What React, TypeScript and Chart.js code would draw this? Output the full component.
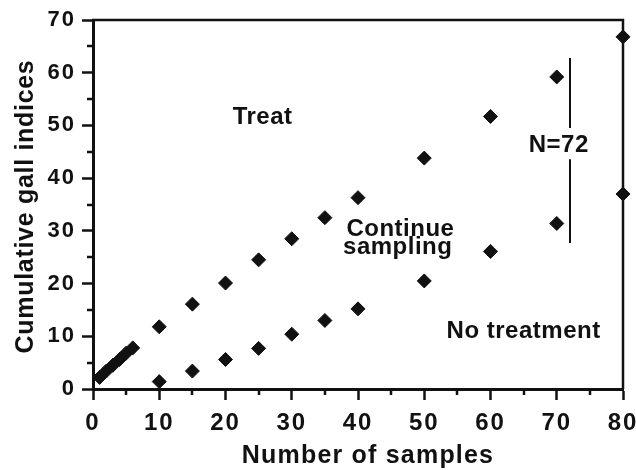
import { useEffect, useRef } from 'react';
import { Chart, registerables } from 'chart.js';

Chart.register(...registerables);

// ---- data ----
const treatX = [1, 2, 3, 4, 5, 6, 10, 15, 20, 25, 30, 35, 40, 50, 60, 70, 80];
const treatY = [2.2, 3.4, 4.5, 5.6, 6.8, 7.8, 11.8, 16.1, 20.1, 24.5, 28.5, 32.5, 36.3, 43.8, 51.7, 59.2, 66.8];
const noTreatX = [10, 15, 20, 25, 30, 35, 40, 50, 60, 70, 80];
const noTreatY = [1.4, 3.4, 5.6, 7.7, 10.4, 13.0, 15.2, 20.5, 26.1, 31.4, 37.0];
const maxNX = [72, 72, 72, 72, 72];
const maxNY: (number | null)[] = [27.7, 43.6, null, 49.5, 62.8];

const xMin = 0, xMax = 80, xStep = 10, xMinorStep = 5;
const yMin = 0, yMax = 70, yStep = 10, yMinorStep = 5;

const xTitle = 'Number of samples';
const yTitle = 'Cumulative gall indices';

const labelTexts = ['Treat', 'Continue', 'sampling', 'No treatment', 'N=72'];
const labelX = [25.6, 46.4, 46.0, 65.0, 70.3];
const labelY = [50.2, 29.0, 25.6, 9.6, 45.0];

const INK = '#111111';
const FONT = '"Liberation Sans", Arial, Helvetica, sans-serif';

const overlay = {
  id: 'overlay',
  beforeDraw(chart: any) {
    chart.ctx.letterSpacing = '2px';
  },
  afterDraw(chart: any) {
    const { ctx, chartArea } = chart;
    const { left, right, top, bottom } = chartArea;
    const xs = chart.scales.x;
    const ys = chart.scales.y;
    ctx.save();
    ctx.letterSpacing = '0px';
    ctx.strokeStyle = INK;
    ctx.fillStyle = INK;
    // frame (top, right)
    ctx.lineWidth = 2.5;
    ctx.beginPath();
    ctx.moveTo(left - 1, top);
    ctx.lineTo(right, top);
    ctx.lineTo(right, bottom);
    ctx.stroke();
    // minor ticks
    ctx.lineWidth = 2.5;
    ctx.beginPath();
    for (let v = xMin + xMinorStep; v < xMax; v += xStep) {
      const px = Math.round(xs.getPixelForValue(v));
      ctx.moveTo(px, bottom);
      ctx.lineTo(px, bottom + 6);
    }
    for (let v = yMin + yMinorStep; v < yMax; v += yStep) {
      const py = Math.round(ys.getPixelForValue(v));
      ctx.moveTo(left, py);
      ctx.lineTo(left - 6, py);
    }
    ctx.stroke();
    // annotations
    ctx.font = `bold 24px ${FONT}`;
    ctx.letterSpacing = '0.5px';
    ctx.textAlign = 'center';
    ctx.textBaseline = 'alphabetic';
    labelTexts.forEach((t, i) => {
      ctx.fillText(t, xs.getPixelForValue(labelX[i]), ys.getPixelForValue(labelY[i]));
    });
    // axis titles
    ctx.font = `bold 25px ${FONT}`;
    ctx.letterSpacing = '1.2px';
    ctx.fillText(xTitle, (left + right) / 2 + 10, bottom + 74);
    ctx.save();
    ctx.translate(33, (top + bottom) / 2 + 2);
    ctx.rotate(-Math.PI / 2);
    ctx.letterSpacing = '0.7px';
    ctx.fillText(yTitle, 0, 0);
    ctx.restore();
    ctx.restore();
  },
};

export default function App() {
  const ref = useRef<HTMLCanvasElement>(null);
  useEffect(() => {
    if (!ref.current) return;
    const chart = new Chart(ref.current, {
      type: 'scatter',
      data: {
        datasets: [
          {
            label: 'Treat boundary',
            data: treatX.map((x, i) => ({ x, y: treatY[i] })),
            pointStyle: 'rectRot',
            pointRadius: 7,
            pointBorderWidth: 1,
            backgroundColor: INK,
            borderColor: INK,
            clip: false as any,
          },
          {
            label: 'No treatment boundary',
            data: noTreatX.map((x, i) => ({ x, y: noTreatY[i] })),
            pointStyle: 'rectRot',
            pointRadius: 7,
            pointBorderWidth: 1,
            backgroundColor: INK,
            borderColor: INK,
            clip: false as any,
          },
          {
            label: 'N=72',
            data: maxNX.map((x, i) => ({ x, y: maxNY[i] as any })),
            showLine: true,
            spanGaps: false,
            pointRadius: 0,
            borderWidth: 2,
            borderColor: INK,
            backgroundColor: INK,
          } as any,
        ],
      },
      options: {
        animation: false,
        responsive: false,
        events: [],
        layout: { padding: { top: 20, right: 13, left: 0, bottom: 0 } },
        plugins: { legend: { display: false }, tooltip: { enabled: false } },
        scales: {
          x: {
            type: 'linear',
            min: xMin,
            max: xMax,
            afterFit: (s: any) => {
              s.height = 81;
              s.paddingLeft = 0;
              s.paddingRight = 0;
            },
            ticks: {
              stepSize: xStep,
              color: INK,
              padding: 9,
              maxRotation: 0,
              font: { family: FONT, size: 24, weight: 'bold' },
            },
            grid: {
              drawOnChartArea: false,
              drawTicks: true,
              tickLength: 11,
              tickWidth: 2.5,
              tickColor: INK,
            },
            border: { display: true, color: INK, width: 3 },
          },
          y: {
            type: 'linear',
            min: yMin,
            max: yMax,
            afterFit: (s: any) => {
              s.width = 93;
              s.paddingTop = 0;
              s.paddingBottom = 0;
            },
            ticks: {
              stepSize: yStep,
              color: INK,
              padding: 6,
              font: { family: FONT, size: 22, weight: 'bold' },
            },
            grid: {
              drawOnChartArea: false,
              drawTicks: true,
              tickLength: 11,
              tickWidth: 2.5,
              tickColor: INK,
            },
            border: { display: true, color: INK, width: 3 },
          },
        },
      } as any,
      plugins: [overlay],
    });
    return () => chart.destroy();
  }, []);
  return (
    <div style={{ position: 'absolute', left: 0, top: 0, width: 636, height: 470, background: '#fff' }}>
      <canvas ref={ref} width={636} height={470} />
    </div>
  );
}
